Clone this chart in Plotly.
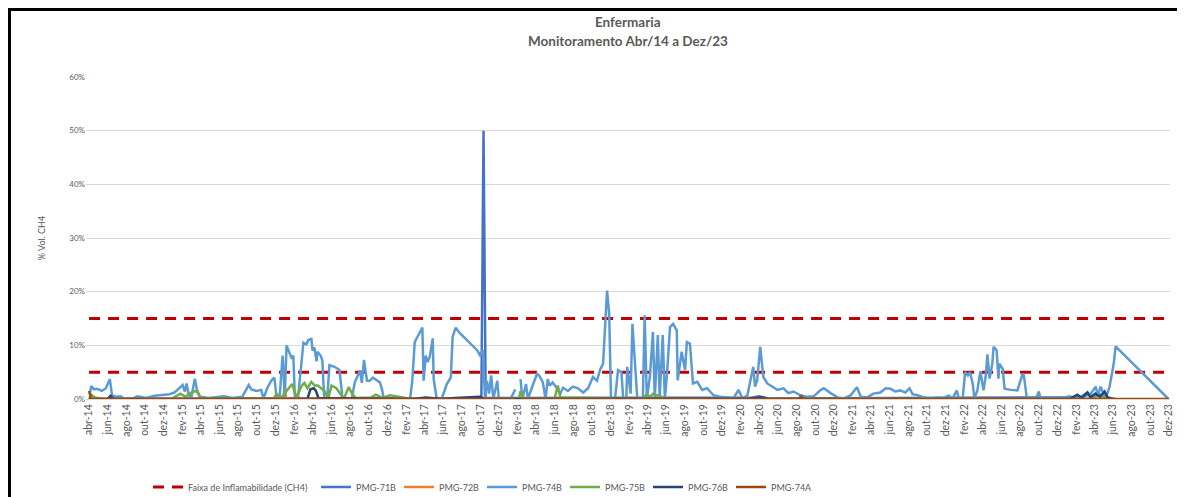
import pandas as pd
import plotly.graph_objects as go

# meses em portugues para os rotulos do eixo x
meses_pt = ["jan", "fev", "mar", "abr", "mai", "jun", "jul", "ago", "set", "out", "nov", "dez"]

faixa_inferior = 5
faixa_superior = 15
inicio = "2014-04-01"
fim = "2023-12-01"

pmg71b_datas = ["2014-04-01", "2017-10-05", "2017-10-12", "2017-10-19", "2020-03-10", "2020-04-01",
                "2020-05-01", "2023-02-15", "2023-03-10", "2023-03-25", "2023-04-15", "2023-05-10", "2023-06-10"]
pmg71b_vals = [0.0, 0.2, 50.0, 0.2, 0.3, 0.5, 0.1, 0.3, 1.2, 0.4, 1.0, 0.2, 0.0]

pmg72b_datas = ["2014-04-01", "2015-12-27", "2016-01-01", "2016-01-05", "2023-06-10"]
pmg72b_vals = [0.0, 0.0, 2.6, 0.0, 0.0]

pmg74b_datas = [
    "2014-04-04", "2014-04-08", "2014-04-17", "2014-04-27", "2014-05-13", "2014-05-26", "2014-06-08", "2014-06-15",
    "2014-06-28", "2014-07-14", "2014-07-24", "2014-08-26", "2014-09-06", "2014-09-19", "2014-10-05", "2014-11-01",
    "2014-11-17", "2014-12-03", "2014-12-20", "2015-01-05", "2015-01-22", "2015-02-01", "2015-02-08", "2015-02-14",
    "2015-02-21", "2015-03-01", "2015-03-13", "2015-03-20", "2015-03-30", "2015-04-28", "2015-06-17", "2015-07-13",
    "2015-08-15", "2015-09-05", "2015-09-14", "2015-09-30", "2015-10-16", "2015-10-23", "2015-11-06", "2015-11-19",
    "2015-11-28", "2015-12-05", "2015-12-15", "2015-12-25", "2016-01-01", "2016-01-07", "2016-01-17", "2016-01-24",
    "2016-01-29", "2016-02-03", "2016-02-13", "2016-02-26", "2016-03-02", "2016-03-12", "2016-03-18", "2016-03-28",
    "2016-04-01", "2016-04-07", "2016-04-14", "2016-04-17", "2016-04-27", "2016-05-03", "2016-05-09", "2016-05-19",
    "2016-05-26", "2016-06-12", "2016-06-28", "2016-07-08", "2016-08-07", "2016-08-17", "2016-09-03", "2016-09-09",
    "2016-09-16", "2016-09-26", "2016-10-05", "2016-10-15", "2016-10-28", "2016-11-07", "2016-11-14", "2016-11-20",
    "2017-01-12", "2017-02-14", "2017-02-21", "2017-03-01", "2017-03-10", "2017-03-26", "2017-03-30", "2017-04-06",
    "2017-04-12", "2017-04-19", "2017-04-29", "2017-05-02", "2017-05-12", "2017-05-28", "2017-06-14", "2017-06-27",
    "2017-07-03", "2017-07-13", "2017-07-26", "2017-08-12", "2017-08-29", "2017-09-08", "2017-09-21", "2017-09-30",
    "2017-10-10", "2017-10-17", "2017-10-23", "2017-10-30", "2017-11-06", "2017-11-13", "2017-11-26", "2017-12-01",
    "2018-01-08", "2018-01-24", "2018-02-05", "2018-02-10", "2018-02-16", "2018-02-28", "2018-03-06", "2018-03-19",
    "2018-04-05", "2018-04-14", "2018-04-24", "2018-05-03", "2018-05-10", "2018-05-16", "2018-05-26", "2018-06-09",
    "2018-06-19", "2018-06-29", "2018-07-15", "2018-07-31", "2018-08-17", "2018-09-03", "2018-09-19", "2018-10-05",
    "2018-10-18", "2018-10-28", "2018-11-07", "2018-11-20", "2018-11-27", "2018-12-03", "2018-12-16", "2018-12-26",
    "2019-01-06", "2019-01-12", "2019-01-22", "2019-01-25", "2019-02-05", "2019-02-11", "2019-02-21", "2019-02-27",
    "2019-03-17", "2019-03-23", "2019-03-30", "2019-04-09", "2019-04-19", "2019-04-25", "2019-05-05", "2019-05-11",
    "2019-05-21", "2019-05-28", "2019-06-04", "2019-06-14", "2019-06-24", "2019-07-06", "2019-07-09", "2019-07-22",
    "2019-07-29", "2019-08-02", "2019-08-08", "2019-08-18", "2019-08-28", "2019-09-11", "2019-09-27", "2019-10-13",
    "2019-11-03", "2019-11-26", "2019-12-18", "2020-01-07", "2020-01-24", "2020-02-06", "2020-02-22", "2020-03-02",
    "2020-03-12", "2020-03-18", "2020-03-25", "2020-04-04", "2020-04-14", "2020-04-27", "2020-05-13", "2020-05-30",
    "2020-06-19", "2020-07-05", "2020-07-21", "2020-08-14", "2020-09-06", "2020-09-26", "2020-10-19", "2020-10-29",
    "2020-11-20", "2020-12-13", "2021-01-03", "2021-01-25", "2021-02-14", "2021-02-27", "2021-03-20", "2021-04-09",
    "2021-05-02", "2021-05-19", "2021-06-04", "2021-06-20", "2021-07-06", "2021-07-22", "2021-08-05", "2021-08-15",
    "2021-09-01", "2021-09-20", "2021-10-13", "2021-11-05", "2021-11-25", "2021-12-11", "2021-12-24", "2022-01-07",
    "2022-01-13", "2022-01-26", "2022-02-03", "2022-02-12", "2022-02-19", "2022-02-28", "2022-03-05", "2022-03-15",
    "2022-03-25", "2022-04-04", "2022-04-11", "2022-04-17", "2022-04-24", "2022-05-03", "2022-05-07", "2022-05-17",
    "2022-05-23", "2022-05-26", "2022-06-06", "2022-06-12", "2022-07-02", "2022-07-24", "2022-08-10", "2022-08-14",
    "2022-08-24", "2022-09-23", "2022-10-02", "2022-10-08", "2022-12-13", "2023-01-09", "2023-01-25", "2023-02-18",
    "2023-03-04", "2023-03-20", "2023-04-06", "2023-04-13", "2023-04-22", "2023-05-02", "2023-05-08", "2023-05-21",
    "2023-06-04", "2023-06-10", "2023-11-30",
]
pmg74b_vals = [
    1.0, 2.4, 1.8, 1.9, 1.5, 2.0, 3.7, 0.7,
    0.4, 0.5, 0.0, 0.2, 0.5, 0.3, 0.2, 0.6,
    0.7, 0.7, 0.9, 1.2, 2.0, 2.6, 1.4, 2.9,
    0.7, 0.2, 3.8, 1.7, 0.4, 0.2, 0.5, 0.2,
    0.4, 2.6, 1.8, 1.5, 1.7, 0.1, 2.2, 3.5,
    4.0, 0.4, 0.2, 8.1, 0.3, 10.0, 8.5, 7.5,
    8.1, 0.3, 0.0, 7.5, 10.5, 10.2, 11.0, 11.2,
    9.0, 9.6, 7.0, 8.8, 8.1, 7.2, 0.0, 0.0,
    6.3, 6.0, 5.4, 0.0, 0.0, 3.1, 5.3, 3.0,
    7.3, 3.4, 3.4, 4.0, 3.4, 3.1, 1.8, 0.0,
    0.1, 0.1, 3.4, 10.6, 11.6, 13.3, 3.4, 8.1,
    6.9, 7.8, 11.3, 3.7, 0.0, 0.0, 2.8, 4.0,
    11.6, 13.3, 12.3, 11.3, 10.3, 9.7, 9.1, 8.2,
    9.1, 0.0, 3.4, 1.0, 4.4, 0.0, 3.4, 0.0,
    0.0, 1.8, None, 3.7, 0.0, 2.8, 0.0, 2.1,
    4.7, 4.2, 3.1, 0.0, 3.7, 2.5, 3.1, 2.0,
    0.9, 2.1, 1.5, 2.3, 2.0, 1.2, 2.0, 4.1,
    3.4, 5.4, 6.6, 20.2, 15.9, 0.0, 0.0, 5.4,
    5.0, 0.0, 0.0, 6.0, 1.0, 14.0, 4.7, 0.0,
    0.0, 15.6, 0.0, 4.1, 12.5, 0.0, 11.9, 0.0,
    11.9, 0.0, 4.7, 13.4, 14.0, 12.8, 3.5, 8.8,
    6.6, 5.4, 10.6, 10.3, 2.9, 3.2, 1.7, 2.0,
    0.7, 0.4, 0.3, 0.1, 1.7, 0.1, 0.7, 3.5,
    6.0, 2.3, 3.5, 9.7, 4.1, 2.9, 2.3, 1.7,
    2.0, 1.1, 1.4, 0.7, 0.4, 0.5, 1.7, 2.0,
    1.1, 0.3, 0.1, 0.7, 2.2, 0.4, 0.3, 1.0,
    1.2, 2.0, 1.9, 1.4, 1.6, 1.2, 2.0, 0.9,
    0.7, 0.3, 0.1, 0.3, 0.2, 0.6, 0.1, 1.6,
    0.1, 0.1, 5.0, 4.4, 5.0, 2.8, 0.1, 1.6,
    5.2, 1.6, 4.1, 8.3, 3.8, 6.6, 9.7, 9.1,
    3.8, 6.6, 5.6, 1.9, 1.7, 1.6, 4.7, 4.4,
    0.1, 0.1, 1.4, 0.1, 0.1, 0.5, 0.3, 0.4,
    0.6, 0.9, 2.3, 0.6, 2.3, 0.9, 0.1, 2.2,
    6.6, 9.8, 0.0,
]

pmg75b_datas = [
    "2014-04-01", "2014-04-08", "2014-04-20", "2014-05-10", "2014-12-25", "2015-01-10", "2015-01-25", "2015-02-10",
    "2015-03-05", "2015-03-18", "2015-04-01", "2015-11-25", "2015-12-05", "2015-12-20", "2016-01-25", "2016-02-08",
    "2016-02-26", "2016-03-05", "2016-03-15", "2016-03-28", "2016-04-08", "2016-04-18", "2016-04-28", "2016-05-10",
    "2016-05-22", "2016-06-02", "2016-06-18", "2016-06-30", "2016-07-12", "2016-07-28", "2016-08-08", "2016-08-20",
    "2016-10-10", "2016-10-25", "2016-11-15", "2016-12-10", "2017-01-05", "2017-02-01", "2017-05-01", "2018-02-05",
    "2018-02-10", "2018-02-20", "2018-06-01", "2018-06-12", "2018-06-20", "2019-03-15", "2019-03-28", "2019-04-10",
    "2019-04-20", "2019-05-05", "2019-05-20", "2019-06-10", "2023-03-25", "2023-04-10", "2023-05-10", "2023-06-01",
]
pmg75b_vals = [
    0.0, 0.8, 0.3, 0.0, 0.0, 0.6, 1.0, 0.4,
    1.3, 1.5, 0.2, 0.0, 1.0, 0.2, 2.8, 0.3,
    2.5, 3.0, 2.0, 3.2, 2.5, 2.5, 2.0, 1.5,
    0.0, 2.5, 2.0, 1.0, 0.0, 2.2, 1.0, 0.2,
    0.3, 0.8, 0.2, 0.7, 0.5, 0.2, 0.0, 0.0,
    1.5, 0.0, 0.0, 2.5, 0.3, 0.0, 0.8, 0.5,
    1.0, 0.6, 0.3, 0.0, 0.0, 0.6, 0.4, 0.0,
]

pmg76b_datas = [
    "2014-04-01", "2014-06-01", "2014-06-10", "2014-06-20", "2016-03-15", "2016-03-25", "2016-04-05", "2016-04-12",
    "2016-04-20", "2017-03-01", "2017-04-05", "2017-06-01", "2017-07-10", "2017-09-01", "2017-10-01", "2017-10-15",
    "2020-03-01", "2020-04-10", "2020-05-01", "2023-01-10", "2023-02-05", "2023-02-20", "2023-03-10", "2023-03-20",
    "2023-04-05", "2023-04-20", "2023-05-05", "2023-05-15", "2023-06-01",
]
pmg76b_vals = [
    0.0, 0.0, 0.6, 0.0, 0.0, 1.8, 2.0, 1.5,
    0.2, 0.0, 0.3, 0.0, 0.2, 0.3, 0.4, 0.0,
    0.1, 0.3, 0.0, 0.0, 0.8, 0.2, 1.2, 0.3,
    1.0, 0.4, 1.4, 0.3, 0.0,
]

pmg74a_datas = ["2014-04-01", "2014-04-08", "2018-01-24", "2018-02-05", "2018-02-10", "2020-08-10", "2020-08-15",
                "2020-08-22", "2023-12-01"]
pmg74a_vals = [1.5, 0.0, 0.0, None, 0.0, 0.0, 0.6, 0.0, 0.0]

series = [
    ("PMG-71B", pmg71b_datas, pmg71b_vals, "#4472C4"),
    ("PMG-72B", pmg72b_datas, pmg72b_vals, "#ED7D31"),
    ("PMG-74B", pmg74b_datas, pmg74b_vals, "#5B9BD5"),
    ("PMG-75B", pmg75b_datas, pmg75b_vals, "#70AD47"),
    ("PMG-76B", pmg76b_datas, pmg76b_vals, "#264478"),
    ("PMG-74A", pmg74a_datas, pmg74a_vals, "#9E480E"),
]

fonte = "Lato, 'Open Sans', sans-serif"
cinza = "#595959"

fig = go.Figure()

fig.add_trace(go.Scatter(
    x=[inicio, fim, None, inicio, fim],
    y=[faixa_superior, faixa_superior, None, faixa_inferior, faixa_inferior],
    mode="lines", name="Faixa de Inflamabilidade (CH4)",
    line=dict(color="#C00000", width=3, dash="11px,8px"),
    legend="legend",
))

for nome, datas, vals, cor in series:
    fig.add_trace(go.Scatter(
        x=pd.to_datetime(datas), y=vals, mode="lines", name=nome,
        line=dict(color=cor, width=2.5), connectgaps=False,
        legend="legend2",
    ))

# ticks a cada 2 meses: abr-14 ... dez-23
ticks = pd.date_range(inicio, fim, freq="2MS")
ticktext = [f"{meses_pt[d.month - 1]}-{d.strftime('%y')}" for d in ticks]

# a pagina tem margem de 8px no body, entao a figura fica 8px menor
# e as posicoes (em px da imagem) sao deslocadas de 8
off = 8
W, H = 1185 - off, 497 - off
ml, mr, mt, mb = 86 - off, 15, 77 - off, 98
pw, ph = W - ml - mr, H - mt - mb


def px_x(x):
    return (x - off - ml) / pw


def px_y(y):
    return (H - mb - (y - off)) / ph


leg_font = dict(family=fonte, size=9, color=cinza)
leg_x0 = 148

fig.update_layout(
    width=W, height=H,
    paper_bgcolor="white", plot_bgcolor="white",
    margin=dict(l=ml, r=mr, t=mt, b=mb, autoexpand=False),
    font=dict(family=fonte, size=9, color=cinza),
    legend=dict(
        orientation="h", x=px_x(leg_x0), xanchor="left", y=px_y(487), yanchor="middle",
        font=leg_font, itemwidth=30, bgcolor="rgba(0,0,0,0)",
    ),
    legend2=dict(
        orientation="h", x=px_x(leg_x0 + 168), xanchor="left", y=px_y(487), yanchor="middle",
        font=leg_font, itemwidth=30, entrywidth=38, traceorder="normal", bgcolor="rgba(0,0,0,0)",
    ),
    showlegend=True,
    annotations=[
        dict(text="<b>Enfermaria</b>", xref="paper", yref="paper", x=0.5, y=px_y(22),
             yanchor="middle", showarrow=False, font=dict(family=fonte, size=13.5, color=cinza)),
        dict(text="<b>Monitoramento Abr/14 a Dez/23</b>", xref="paper", yref="paper", x=0.5, y=px_y(41),
             yanchor="middle", showarrow=False, font=dict(family=fonte, size=13.5, color=cinza)),
    ],
    shapes=[
        dict(type="line", xref="paper", yref="paper", x0=px_x(9), x1=px_x(1190), y0=px_y(9.5), y1=px_y(9.5),
             line=dict(color="black", width=3)),
        dict(type="line", xref="paper", yref="paper", x0=px_x(9.5), x1=px_x(9.5), y0=px_y(8), y1=px_y(510),
             line=dict(color="black", width=3)),
    ],
)

fig.update_xaxes(
    type="date", range=["2014-03-22", "2023-12-05"], automargin=False,
    tickvals=ticks, ticktext=ticktext, tickangle=-90,
    tickfont=dict(size=10.5, color=cinza), showgrid=False,
    showline=True, linecolor="#D9D9D9", ticks="", zeroline=False,
)
fig.update_yaxes(
    range=[0, 60], dtick=10, ticksuffix="%", automargin=False,
    tickfont=dict(size=8, color=cinza), gridcolor="#D9D9D9", gridwidth=1,
    showline=False, zeroline=False, ticks="",
    title=dict(text="% Vol. CH4", font=dict(size=9, color=cinza), standoff=22),
)

fig.write_html("out.html")
